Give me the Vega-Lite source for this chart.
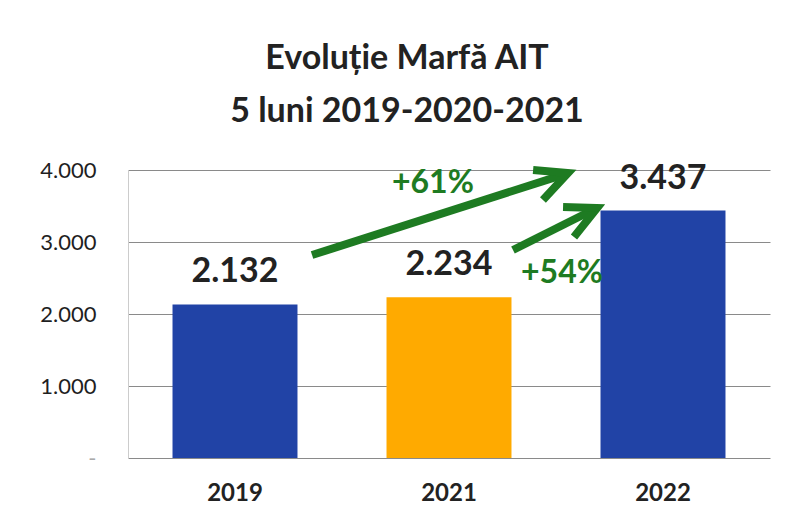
{
  "$schema": "https://vega.github.io/schema/vega-lite/v6.json",
  "width": 642,
  "height": 288,
  "autosize": {"type": "none"},
  "padding": {"left": 128, "top": 170, "right": 16, "bottom": 64},
  "background": "white",
  "title": {
    "text": ["Evoluție Marfă AIT", "5 luni 2019-2020-2021"],
    "font": "Lato",
    "fontSize": 34,
    "fontWeight": "bold",
    "color": "#222222",
    "lineHeight": 53,
    "anchor": "middle",
    "dx": -42,
    "offset": 25
  },
  "config": {
    "view": {"stroke": null},
    "locale": {
      "number": {"decimal": ",", "thousands": ".", "grouping": [3], "currency": ["", ""]}
    }
  },
  "datasets": {
    "bars": [
      {"an": "2019", "marfa": 2132, "tip": "a"},
      {"an": "2021", "marfa": 2234, "tip": "b"},
      {"an": "2022", "marfa": 3437, "tip": "a"}
    ],
    "arrows": [
      {"seg": "a1s", "k": 0, "px": 0.86, "py": 2819},
      {"seg": "a1s", "k": 1, "px": 2.05, "py": 3950},
      {"seg": "a1h", "k": 0, "px": 1.893, "py": 4000},
      {"seg": "a1h", "k": 1, "px": 2.056, "py": 3958},
      {"seg": "a1h", "k": 2, "px": 1.939, "py": 3583},
      {"seg": "a2s", "k": 0, "px": 1.799, "py": 2889},
      {"seg": "a2s", "k": 1, "px": 2.186, "py": 3465},
      {"seg": "a2h", "k": 0, "px": 2.033, "py": 3486},
      {"seg": "a2h", "k": 1, "px": 2.192, "py": 3472},
      {"seg": "a2h", "k": 2, "px": 2.084, "py": 3069}
    ],
    "notes": [
      {"txt": "+61%", "px": 1.425, "py": 3819},
      {"txt": "+54%", "px": 2.028, "py": 2570}
    ]
  },
  "layer": [
    {
      "data": {"name": "bars"},
      "encoding": {
        "x": {
          "field": "an",
          "type": "nominal",
          "sort": null,
          "scale": {"paddingInner": 0.416, "paddingOuter": 0.208},
          "axis": {
            "title": null,
            "labelAngle": 0,
            "labelFont": "Lato",
            "labelFontSize": 24,
            "labelFontWeight": "bold",
            "labelColor": "#222222",
            "labelPadding": 23,
            "ticks": false,
            "domain": false
          }
        },
        "y": {
          "field": "marfa",
          "type": "quantitative",
          "scale": {"domain": [0, 4000], "nice": false},
          "axis": {
            "title": null,
            "values": [0, 1000, 2000, 3000, 4000],
            "labelExpr": "datum.value == 0 ? '-' : format(datum.value, ',')",
            "labelFont": "Lato",
            "labelFontSize": 22,
            "labelColor": {"condition": {"test": "datum.value == 0", "value": "#aaaaaa"}, "value": "#1f1f1f"},
            "labelPadding": 32,
            "ticks": false,
            "domain": true,
            "domainColor": "#cccccc",
            "grid": true,
            "gridColor": "#8a8a8a",
            "gridWidth": 1
          }
        }
      },
      "layer": [
        {
          "mark": {"type": "bar"},
          "encoding": {
            "color": {
              "field": "tip",
              "type": "nominal",
              "scale": {"domain": ["a", "b"], "range": ["#2143A6", "#FFAA00"]},
              "legend": null
            }
          }
        },
        {
          "mark": {
            "type": "text",
            "font": "Lato",
            "fontSize": 34,
            "fontWeight": "bold",
            "color": "#222222",
            "baseline": "alphabetic",
            "dy": -22
          },
          "encoding": {
            "text": {"field": "marfa", "type": "quantitative", "format": ",.0f"}
          }
        }
      ]
    },
    {
      "data": {"name": "arrows"},
      "mark": {
        "type": "line",
        "strokeWidth": 8,
        "color": "#1E7B22",
        "strokeCap": "butt",
        "strokeJoin": "miter",
        "clip": false
      },
      "encoding": {
        "x": {"field": "px", "type": "quantitative", "scale": {"domain": [0, 3], "nice": false, "zero": false}, "axis": null},
        "y": {"field": "py", "type": "quantitative", "scale": {"domain": [0, 4000], "nice": false}, "axis": null},
        "detail": {"field": "seg"},
        "order": {"field": "k"}
      }
    },
    {
      "data": {"name": "notes"},
      "mark": {
        "type": "text",
        "font": "Lato",
        "fontSize": 32,
        "fontWeight": "bold",
        "color": "#1E7B22",
        "align": "center",
        "baseline": "middle"
      },
      "encoding": {
        "x": {"field": "px", "type": "quantitative", "scale": {"domain": [0, 3], "nice": false, "zero": false}, "axis": null},
        "y": {"field": "py", "type": "quantitative", "scale": {"domain": [0, 4000], "nice": false}, "axis": null},
        "text": {"field": "txt"}
      }
    }
  ],
  "resolve": {"scale": {"x": "independent", "y": "independent"}}
}
